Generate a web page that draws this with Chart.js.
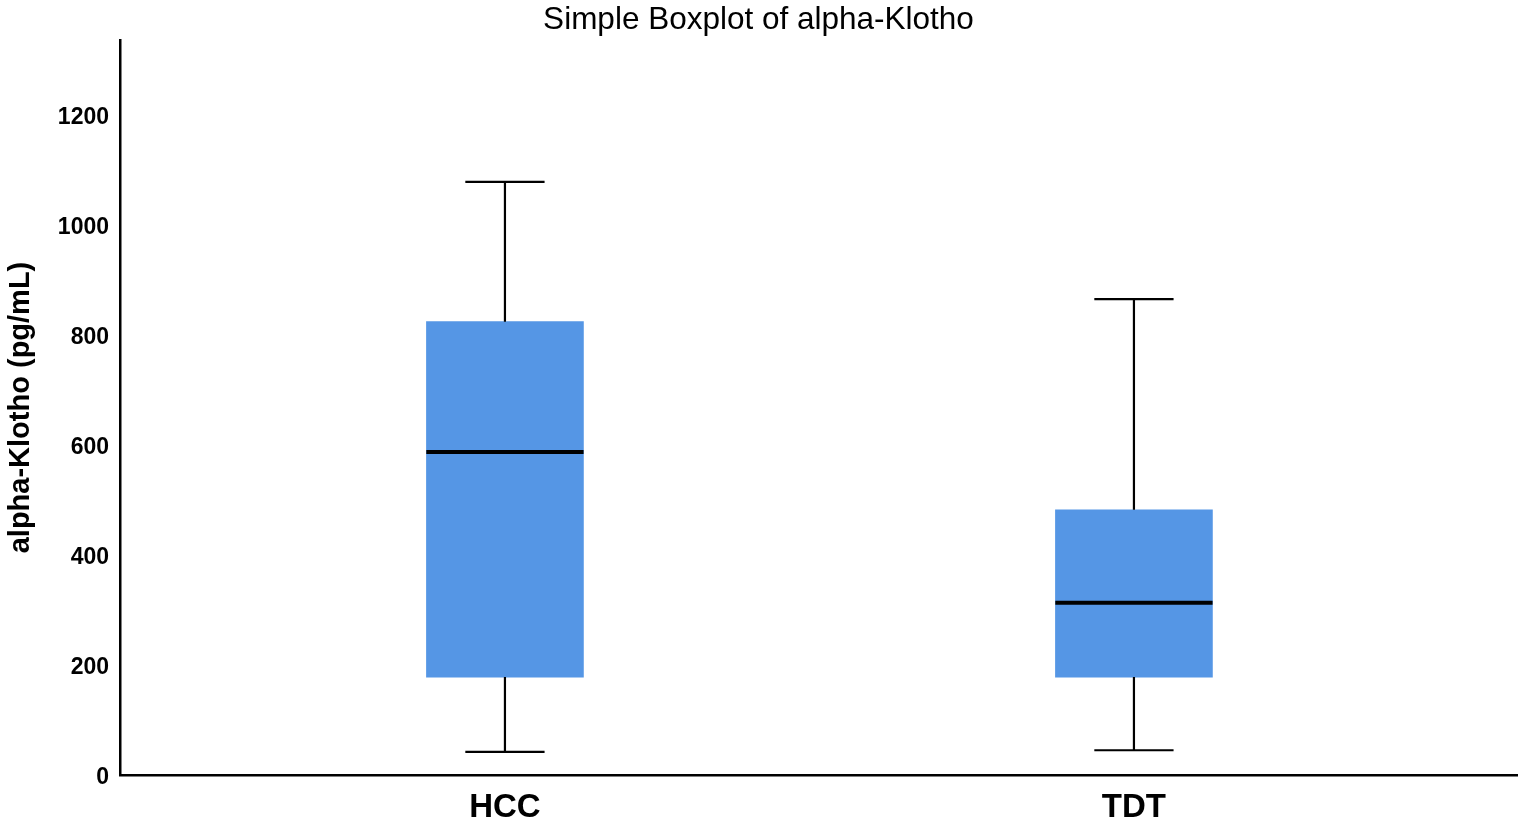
<!DOCTYPE html>
<html>
<head>
<meta charset="utf-8">
<script src="https://cdn.jsdelivr.net/npm/chart.js@4.4.1/dist/chart.umd.min.js"></script>
<style>
html,body{margin:0;padding:0;background:#fff;}
#wrap{width:1521px;height:822px;}
</style>
</head>
<body>
<div id="wrap"><canvas id="c" width="1521" height="822"></canvas></div>
<script>
// ---- data ----
const categories = ['HCC', 'TDT'];
const whiskerMin = [42, 45];
const q1 = [178, 178];
const median = [587, 313];
const q3 = [824, 482];
const whiskerMax = [1078, 865];
const yTicks = [0, 200, 400, 600, 800, 1000, 1200];

// ---- style constants ----
const BOX_HALF = 0.125;   // half box width in x units
const CAP_HALF = 0.063;   // half whisker cap width in x units
const BOX_COLOR = '#5596E5';

const boxData = categories.map((c, i) => ({ x: i + 1, y: [q1[i], q3[i]] }));
const whiskerData = [];
categories.forEach((c, i) => {
  const x = i + 1;
  whiskerData.push({ x: x, y: q3[i] }, { x: x, y: whiskerMax[i] }, { x: x, y: null });
  whiskerData.push({ x: x - CAP_HALF, y: whiskerMax[i] }, { x: x + CAP_HALF, y: whiskerMax[i] }, { x: x, y: null });
  whiskerData.push({ x: x, y: q1[i] }, { x: x, y: whiskerMin[i] }, { x: x, y: null });
  whiskerData.push({ x: x - CAP_HALF, y: whiskerMin[i] }, { x: x + CAP_HALF, y: whiskerMin[i] }, { x: x, y: null });
});
const medianData = [];
categories.forEach((c, i) => {
  const x = i + 1;
  medianData.push({ x: x - BOX_HALF, y: median[i] }, { x: x + BOX_HALF, y: median[i] }, { x: x, y: null });
});

new Chart(document.getElementById('c'), {
  type: 'bar',
  data: {
    datasets: [
      {
        type: 'line', data: medianData, borderColor: '#000', borderWidth: 4,
        pointRadius: 0, fill: false, spanGaps: false, order: 1, borderCapStyle: 'butt'
      },
      {
        type: 'line', data: whiskerData, borderColor: '#000', borderWidth: 2.2,
        pointRadius: 0, fill: false, spanGaps: false, order: 2, borderCapStyle: 'butt'
      },
      {
        type: 'bar', data: boxData, backgroundColor: BOX_COLOR, borderWidth: 0,
        barThickness: 157, order: 3
      }
    ]
  },
  options: {
    responsive: false,
    animation: false,
    layout: { padding: { left: 0, right: 4, top: 0, bottom: 0 } },
    plugins: {
      legend: { display: false },
      tooltip: { enabled: false },
      title: {
        display: true,
        text: 'Simple Boxplot of alpha-Klotho',
        color: '#000',
        font: { family: "'Liberation Sans', Arial, sans-serif", size: 31.5, weight: 'normal', lineHeight: 1.1 },
        padding: { top: 3, bottom: 2.35 }
      }
    },
    scales: {
      x: {
        type: 'linear',
        offset: false,
        min: 0.388,
        max: 2.609,
        grid: { display: false, drawTicks: false, offset: false },
        border: { display: true, color: '#000', width: 2.5 },
        afterBuildTicks: (s) => { s.ticks = categories.map((c, i) => ({ value: i + 1 })); },
        afterFit: (s) => { s.height = 47; },
        ticks: {
          color: '#000',
          padding: 13,
          autoSkip: false,
          maxRotation: 0,
          font: { family: "'Liberation Sans', Arial, sans-serif", size: 33, weight: 'bold' },
          callback: (v) => categories[Math.round(v) - 1] || ''
        }
      },
      y: {
        min: 0,
        max: 1336,
        grid: { display: false, drawTicks: false },
        border: { display: true, color: '#000', width: 2.5 },
        afterBuildTicks: (s) => { s.ticks = yTicks.map(v => ({ value: v })); },
        afterFit: (s) => { s.width = 120; },
        ticks: {
          color: '#000',
          padding: 11,
          labelOffset: 3,
          font: { family: "'Liberation Sans Narrow', 'Liberation Sans', Arial, sans-serif", size: 23, weight: 'bold' },
          callback: (v) => String(v)
        },
        title: {
          display: true,
          text: 'alpha-Klotho (pg/mL)',
          color: '#000',
          padding: { top: 6, bottom: 0 },
          font: { family: "'Liberation Sans', Arial, sans-serif", size: 29, weight: 'bold', lineHeight: 1.0 }
        }
      }
    }
  }
});
</script>
</body>
</html>
